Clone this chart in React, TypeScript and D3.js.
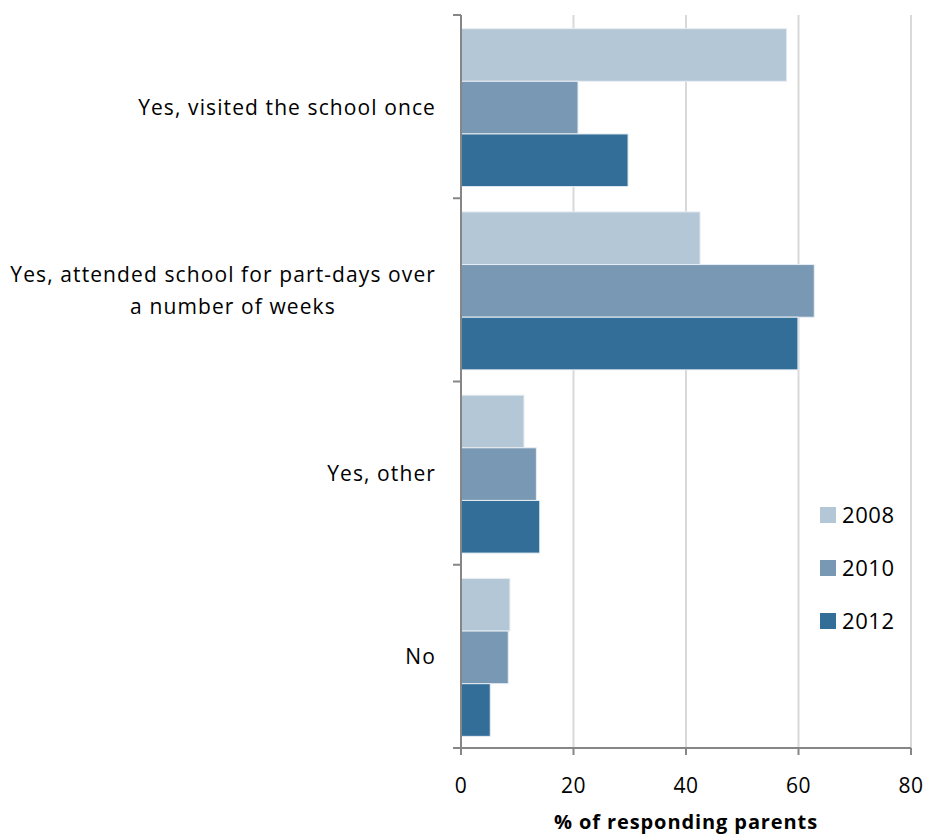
import React from "react";
import * as d3 from "d3";

const categories = [
  "Yes, visited the school once",
  "Yes, attended school for part-days over a number of weeks",
  "Yes, other",
  "No",
];
const categoryLines = [
  ["Yes, visited the school once"],
  ["Yes, attended school for part-days over", "a number of weeks"],
  ["Yes, other"],
  ["No"],
];
const seriesNames = ["2008", "2010", "2012"];
const values2008 = [57.9, 42.5, 11.2, 8.7];
const values2010 = [20.8, 62.8, 13.4, 8.4];
const values2012 = [29.7, 59.9, 14.0, 5.2];
const seriesValues = [values2008, values2010, values2012];
const xTicks = [0, 20, 40, 60, 80];
const colors = ["#b4c7d6", "#7898b4", "#336e99"];

const W = 928;
const H = 834;
const left = 461;
const right = 911;
const top = 15;
const bottom = 748;
const FONT = "'Open Sans', Lato, sans-serif";

export default function App() {
  const x = d3.scaleLinear().domain([0, 80]).range([left, right]);
  const y = d3.scaleBand().domain(categories).range([top, bottom]).paddingInner(0).paddingOuter(0);
  const bw = y.bandwidth();
  const groupH = bw * 0.862;
  const sub = d3
    .scaleBand()
    .domain(seriesNames)
    .range([0, groupH]);

  const catTicks = d3.range(categories.length + 1).map((i) => top + i * bw);

  return (
    <svg width={W} height={H} style={{ position: "absolute", left: 0, top: 0 }}>
      <rect x={0} y={0} width={W} height={H} fill="#fff" />
      {xTicks.slice(1).map((t) => (
        <line key={t} x1={x(t)} x2={x(t)} y1={top} y2={bottom} stroke="#d9d9d9" strokeWidth={2} />
      ))}
      {categories.map((c, ci) => {
        const y0 = (y(c) as number) + (bw - groupH) / 2 + 1;
        return seriesNames.map((s, si) => (
          <rect
            key={c + s}
            x={x(0)}
            y={y0 + (sub(s) as number)}
            width={x(seriesValues[si][ci]) - x(0)}
            height={sub.bandwidth()}
            fill={colors[si]}
            stroke="#e8eef3"
            strokeWidth={1}
          />
        ));
      })}
      {/* y axis */}
      <line x1={left} x2={left} y1={top} y2={bottom} stroke="#868686" strokeWidth={2} />
      {catTicks.map((t, i) => (
        <line key={i} x1={left - 8} x2={left} y1={t} y2={t} stroke="#868686" strokeWidth={2} />
      ))}
      {/* x axis */}
      <line x1={left} x2={right} y1={bottom} y2={bottom} stroke="#868686" strokeWidth={2} />
      {xTicks.map((t) => (
        <g key={t}>
          <line x1={x(t)} x2={x(t)} y1={bottom} y2={bottom + 7} stroke="#868686" strokeWidth={2} />
          <text x={x(t)} y={bottom + 45} textAnchor="middle" fontFamily={FONT} fontSize={21} letterSpacing={0.5} fill="#000">
            {t}
          </text>
        </g>
      ))}
      <text x={686} y={829} textAnchor="middle" fontFamily={FONT} fontSize={20} letterSpacing={0.9} fontWeight="bold" fill="#000">
        % of responding parents
      </text>
      {categories.map((c, ci) => {
        const lines = categoryLines[ci];
        const cy = (y(c) as number) + bw / 2;
        const lh = 32;
        return (
          <g key={c}>
            {lines.map((l, li) => (
              <text
                key={li}
                x={li === 0 ? 436 : 233}
                y={cy + 8 + (li - (lines.length - 1) / 2) * lh}
                textAnchor={li === 0 ? "end" : "middle"}
                fontFamily={FONT}
                fontSize={21}
                letterSpacing={1.1}
                fill="#000"
              >
                {l}
              </text>
            ))}
          </g>
        );
      })}
      {/* legend */}
      {seriesNames.map((s, i) => (
        <g key={s}>
          <rect x={820} y={507 + i * 53} width={16} height={16} fill={colors[i]} />
          <text x={842} y={523 + i * 53} fontFamily={FONT} fontSize={22} letterSpacing={0.6} fill="#000">
            {s}
          </text>
        </g>
      ))}
    </svg>
  );
}
